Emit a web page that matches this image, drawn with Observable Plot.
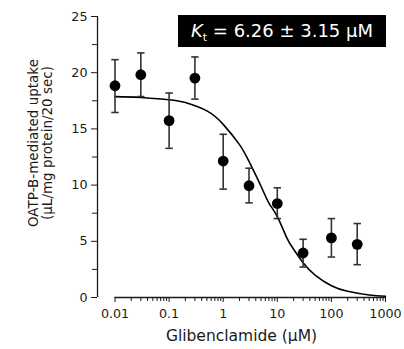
<!DOCTYPE html>
<html>
<head>
<meta charset="utf-8">
<script src="https://cdn.jsdelivr.net/npm/d3@7"></script>
<script src="https://cdn.jsdelivr.net/npm/@observablehq/plot@0.6"></script>
<style>
  html, body { margin: 0; padding: 0; background: #fff; }
  #wrap { position: relative; width: 404px; height: 349px; font-family: "DejaVu Sans", Verdana, sans-serif; }
  #kt { position: absolute; left: 178px; top: 15px; width: 208px; height: 32px; background: #000; color: #fff;
        font-size: 18px; line-height: 32px; text-align: center; white-space: nowrap; }
  #kt sub { font-size: 11px; vertical-align: -4px; line-height: 0; }
</style>
</head>
<body>
<div id="wrap"><div id="kt"><i>K</i><sub>t</sub> = 6.26 ± 3.15 μM</div></div>
<script>
// Measured points (Glibenclamide concentration, µM) and uptake (µL/mg protein/20 sec)
const conc   = [0.01, 0.03, 0.1, 0.3, 1, 3, 10, 30, 100, 300];
const uptake = [18.84, 19.82, 15.74, 19.52, 12.14, 9.94, 8.36, 3.96, 5.3, 4.73];
const errHi  = [21.16, 21.76, 18.19, 21.4, 14.52, 11.5, 9.76, 5.18, 7.02, 6.58];
const errLo  = [16.46, 17.88, 13.27, 17.65, 9.64, 8.42, 7.02, 2.71, 3.6, 2.92];

// Fitted curve
const curveX = [0.01, 0.03, 0.1, 0.2, 0.5, 1, 2, 3, 5, 7, 10, 15, 20, 30, 50, 100, 200, 500, 1000];
const curveY = [17.87, 17.8, 17.6, 17.35, 16.6, 15.4, 13.6, 12.1, 9.9, 8.4, 7.2, 5.3, 4.3, 3.1, 2.0, 1.05, 0.55, 0.22, 0.11];

// Axis ticks
const xMajor = [0.01, 0.1, 1, 10, 100, 1000];
const xMajorLabels = ["0.01", "0.1", "1", "10", "100", "1000"];
const xMinor = [2,3,4,5,6,7,8,9].flatMap(m => [0.01, 0.1, 1, 10, 100].map(d => +(m * d).toPrecision(3)));
const yMajor = [0, 5, 10, 15, 20, 25];
const yMinor = [2.5, 7.5, 12.5, 17.5, 22.5];

const xTitle = "Glibenclamide (μM)";
const yTitle = "OATP-B-mediated uptake\n(μL/mg protein/20 sec)";

const points = conc.map((c, i) => ({x: c, y: uptake[i], lo: errLo[i], hi: errHi[i]}));
const fit = curveX.map((c, i) => ({x: c, y: curveY[i]}));

const capSymbol = {
  draw(ctx, size) {
    const w = Math.sqrt(size / Math.PI);
    ctx.moveTo(-w, 0);
    ctx.lineTo(w, 0);
  }
};

const ink = "#1a1a1a";
const xLabelOf = d => xMajorLabels[xMajor.findIndex(v => Math.abs(v - d) < 1e-9 * Math.max(1, v))] ?? "";

const chart = Plot.plot({
  width: 404,
  height: 349,
  marginLeft: 97,
  marginRight: 19,
  marginTop: 16,
  marginBottom: 52,
  insetLeft: 17.5,
  style: { fontFamily: "DejaVu Sans, Verdana, sans-serif", fontSize: "12.7px", color: ink, background: "#fff" },
  x: { type: "log", domain: [0.01, 1000] },
  y: { domain: [0, 25] },
  marks: [
    Plot.axisY({ ticks: yMajor, tickSize: 6, tickPadding: 4, label: null, fontSize: 12.7 }),
    Plot.axisY({ ticks: yMinor, tickSize: 5, tickFormat: () => "", label: null }),
    Plot.axisX({ ticks: xMajor, tickSize: 5, tickPadding: 6, tickFormat: xLabelOf, label: null, fontSize: 12.7 }),
    Plot.axisX({ ticks: xMinor, tickSize: 4, tickFormat: () => "", label: null }),
    Plot.ruleX([0.01], { dx: -17.5, stroke: ink, strokeWidth: 1.3 }),
    Plot.ruleY([0], { x1: 0.01, x2: 1000, stroke: ink, strokeWidth: 1.3 }),
    Plot.line(fit, { x: "x", y: "y", curve: "natural", stroke: "#000", strokeWidth: 1.6 }),
    Plot.ruleX(points, { x: "x", y1: "lo", y2: "hi", stroke: "#333", strokeWidth: 1.6 }),
    Plot.dot(points, { x: "x", y: "hi", symbol: capSymbol, r: 3.7, stroke: "#333", strokeWidth: 1.6 }),
    Plot.dot(points, { x: "x", y: "lo", symbol: capSymbol, r: 3.7, stroke: "#333", strokeWidth: 1.6 }),
    Plot.dot(points, { x: "x", y: "y", r: 5.4, fill: "#000", stroke: "none" }),
    Plot.text([xTitle], { text: d => d, frameAnchor: "bottom", dy: 43, fontSize: 15.5, fill: ink }),
    Plot.text([yTitle], { text: d => d, frameAnchor: "left", textAnchor: "middle", rotate: -90, dx: -57, dy: -14, fontSize: 13.5, lineHeight: 1.02, fill: ink })
  ]
});
document.getElementById("wrap").prepend(chart);
</script>
</body>
</html>
